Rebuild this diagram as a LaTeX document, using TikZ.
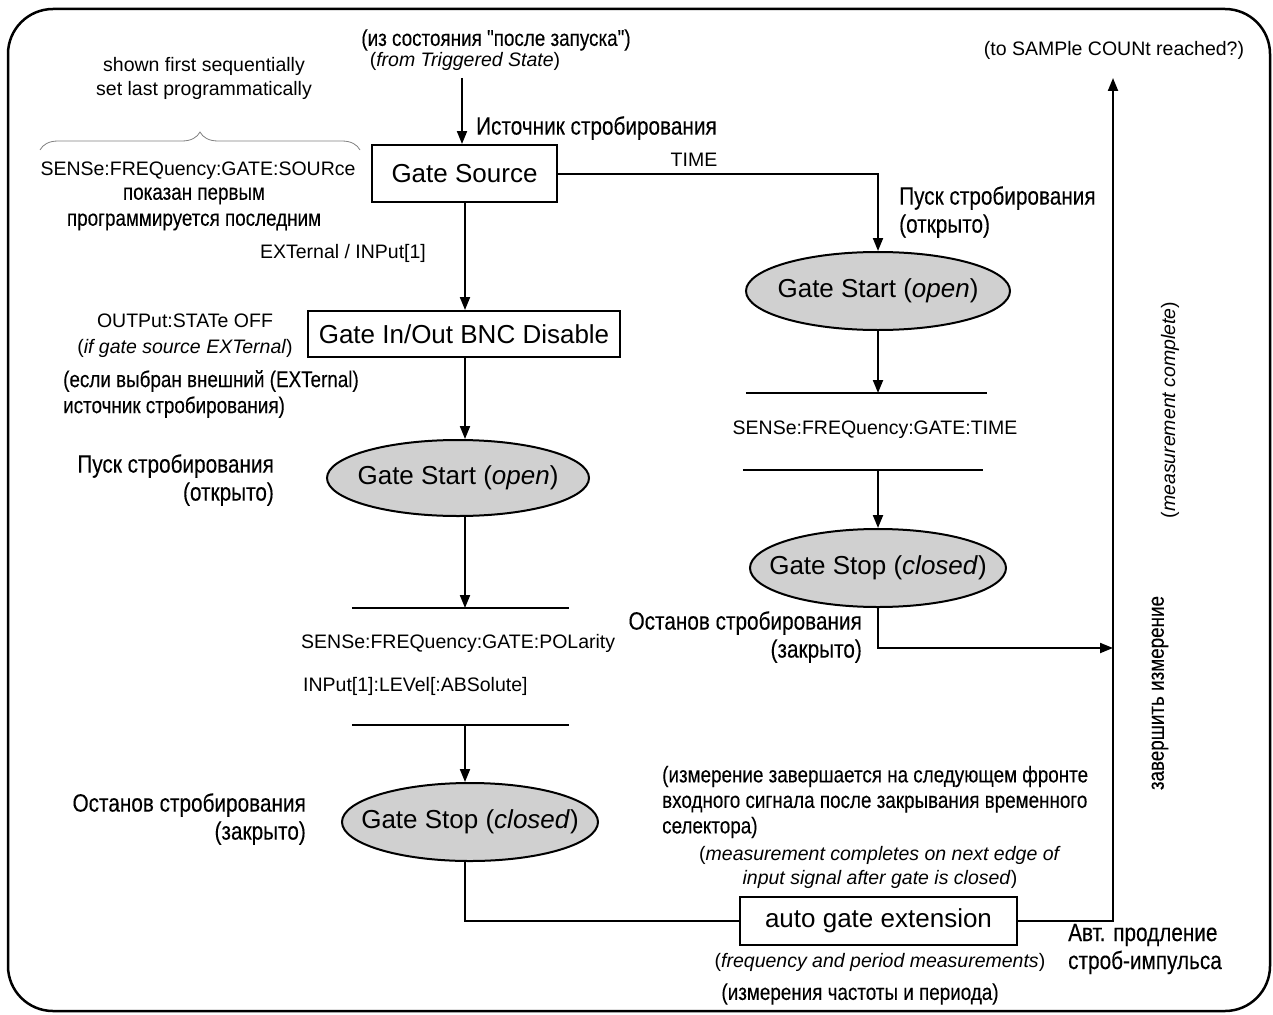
\documentclass[tikz,border=0pt]{standalone}
\usepackage{fontspec}
\setmainfont{Liberation Sans}
\newfontfamily\rufont[FakeStretch=0.83,FakeBold=0.2]{Liberation Sans}
\usetikzlibrary{arrows.meta,shapes.geometric,decorations.pathreplacing}
\definecolor{ellfill}{RGB}{208,208,208}
\begin{document}
\begin{tikzpicture}[x=1pt,y=-1pt,
  en/.style={font=\fontsize{19.5}{24}\selectfont, inner sep=0pt},
  ru/.style={font=\rufont\fontsize{25}{28}\selectfont, inner sep=0pt},
  rus/.style={font=\rufont\fontsize{22.7}{26}\selectfont, inner sep=0pt},
  big/.style={font=\fontsize{26}{30}\selectfont},
  box/.style={draw, line width=2pt, big, inner sep=0pt},
  ell/.style={ellipse, draw, line width=2pt, fill=ellfill, big, inner xsep=-12pt, inner ysep=0pt},
  arr/.style={-{Triangle[length=13pt,width=10pt]}, line width=2pt},
  ln/.style={line width=2pt},
  barnode/.style={inner sep=0pt, minimum height=0pt, minimum width=#1}
]
\useasboundingbox (0,0) rectangle (1273,1014);
\draw[line width=2.5pt, rounded corners=45pt] (8,9) rectangle (1270,1011);

% column coordinates
\coordinate (cl) at (465,0);
\coordinate (tin) at (462,78);
\coordinate (tip) at (1113,78);
\coordinate (join) at (1113,648);

% main nodes
\node[box, minimum width=185, minimum height=57] (gs) at (464.5,173.5) {Gate Source};
\node[box, minimum width=312, minimum height=46] (bnc) at (464,334) {Gate In/Out BNC Disable};
\node[ell, minimum width=262, minimum height=76] (lstart) at (458,478) {Gate Start (\textit{open})};
\node[ell, inner xsep=-22pt, minimum width=256, minimum height=78] (lstop) at (470,822) {Gate Stop (\textit{closed})};
\node[ell, minimum width=264, minimum height=78] (rstart) at (878,291) {Gate Start (\textit{open})};
\node[ell, inner xsep=-22pt, minimum width=256, minimum height=78] (rstop) at (878,568) {Gate Stop (\textit{closed})};
\node[box, minimum width=277, minimum height=48] (age) at (878.5,921) {auto gate extension};

% bars
\node[barnode=217] (bar1) at (460.5,608) {};
\node[barnode=217] (bar2) at (460.5,725) {};
\node[barnode=241] (bar3) at (866.5,393) {};
\node[barnode=240] (bar4) at (863,470) {};
\foreach \b in {bar1,bar2,bar3,bar4} \draw[ln] (\b.west) -- (\b.east);

% text labels
\node[rus] (trig1) at (496,40) {(из состояния "после запуска")};
\node[en] (trig2) at (465,61) {(\textit{from Triggered State})};
\node[ru, anchor=west] (srclab) at (476,128) {Источник стробирования};
\node[en] (time) at (694,160) {TIME};
\node[ru, anchor=west, align=left] (rstartlab) at (899,212) {Пуск стробирования\\(открыто)};
\node[en] (rsense) at (875,430) {SENSe:FREQuency:GATE:TIME};
\node[ru, anchor=east, align=right] (rstoplab) at (862,637) {Останов стробирования\\(закрыто)};
\node[en] (sample) at (1114,50) {(to SAMPle COUNt reached?)};
\node[en, rotate=90] (meas) at (1170,410) {(\textit{measurement complete})};
\node[rus, rotate=90] (zav) at (1160,693) {завершить измерение};

\node[en, align=center] (shown) at (204,78) {shown first sequentially\\set last programmatically};
\draw[gray, line width=0.8pt, decorate, decoration={brace, amplitude=18pt}] (40,150) -- (360,150);
\node[en] (sensesrc) at (198,171) {SENSe:FREQuency:GATE:SOURce};
\node[rus, align=center] (pokaz) at (194,209) {показан первым\\программируется последним};
\node[en] (ext) at (343,253) {EXTernal / INPut[1]};
\node[en, align=center, font=\fontsize{19.5}{26}\selectfont] (outp) at (185,336) {OUTPut:STATe OFF\\(\textit{if gate source EXTernal})};
\node[rus, anchor=west, align=left] (esli) at (63,394) {(если выбран внешний (EXTernal)\\источник стробирования)};
\node[ru, anchor=east, align=right] (lstartlab) at (274,480) {Пуск стробирования\\(открыто)};
\node[en, anchor=west] (pol) at (301,643) {SENSe:FREQuency:GATE:POLarity};
\node[en, anchor=west] (lev) at (303,686) {INPut[1]:LEVel[:ABSolute]};
\node[ru, anchor=east, align=right] (lstoplab) at (306,819) {Останов стробирования\\(закрыто)};
\node[rus, anchor=west, align=left, font=\rufont\fontsize{22.7}{25.5}\selectfont] (izm) at (662,802) {(измерение завершается на следующем фронте\\входного сигнала после закрывания временного\\селектора)};
\node[en, align=center] (measc) at (880,867) {(\textit{measurement completes on next edge of}\\\textit{input signal after gate is closed})};
\node[en] (freq) at (880,962) {(\textit{frequency and period measurements})};
\node[rus] (izmf) at (860,994) {(измерения частоты и периода)};
\node[ru, anchor=west, align=left] (avt) at (1068,949) {Авт. продление\\строб-импульса};

% connectors
\draw[arr] (tin) -- (tin |- gs.north);
\draw[arr] (gs.east) -| (rstart.north);
\draw[arr] (gs.south -| cl) -- (bnc.north -| cl);
\draw[arr] (bnc.south -| cl) -- (lstart.north -| cl);
\draw[arr] (lstart.south -| cl) -- (bar1.center -| cl);
\draw[arr] (bar2.center -| cl) -- (lstop.north -| cl);
\draw[ln] (lstop.south -| cl) |- (age.west);
\draw[arr] (age.east) -| (tip);
\draw[arr] (rstart.south) -- (bar3.center -| rstart.south);
\draw[arr] (bar4.center -| rstop.north) -- (rstop.north);
\draw[arr] (rstop.south) |- (join);
\end{tikzpicture}
\end{document}
